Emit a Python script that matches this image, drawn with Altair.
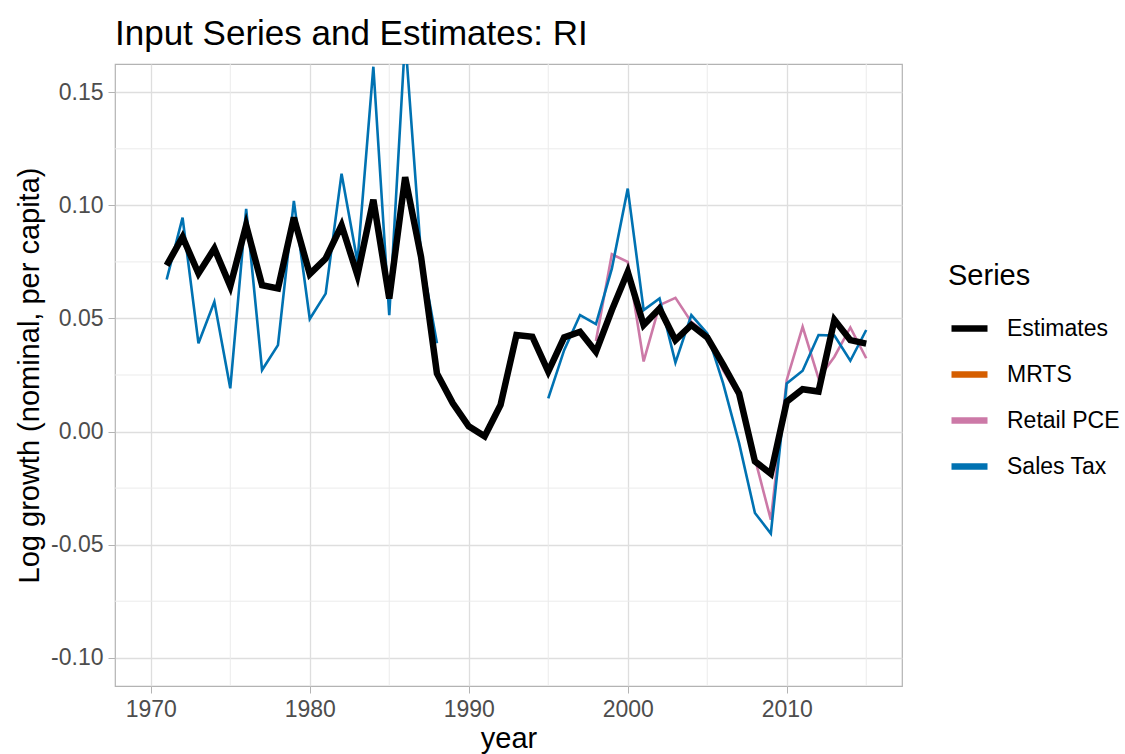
import altair as alt
import pandas as pd

# Annual log growth of nominal per-capita retail spending, Rhode Island
years = list(range(1971, 2016))

estimates = [
    0.0735, 0.0860, 0.0699, 0.0809, 0.0643, 0.0912, 0.0647, 0.0633, 0.0946, 0.0696,
    0.0765, 0.0912, 0.0691, 0.1025, 0.0588, 0.1125, 0.0772, 0.0257, 0.0125, 0.0023,
    -0.0021, 0.0118, 0.0427, 0.0419, 0.0265, 0.0416, 0.0441, 0.0353, 0.0537, 0.0706,
    0.0471, 0.0544, 0.0404, 0.0471, 0.0416, 0.0296, 0.0169, -0.0132, -0.0187, 0.0132,
    0.0187, 0.0177, 0.0494, 0.0404, 0.0389,
]

sales_tax = [
    0.0672, 0.0946, 0.0390, 0.0574, 0.0191, 0.0985, 0.0272, 0.0382, 0.1020, 0.0498,
    0.0610, 0.1140, 0.0750, 0.1613, 0.0515, 0.1740, 0.0780, 0.0390, None, None,
    None, None, None, None, 0.0147, 0.0360, 0.0515, 0.0475, 0.0720, 0.1074,
    0.0537, 0.0588, 0.0305, 0.0515, 0.0434, 0.0213, -0.0050, -0.0360, -0.0451, 0.0213,
    0.0269, 0.0427, 0.0424, 0.0313, 0.0449,
]

retail_pce_years = list(range(1998, 2016))
retail_pce = [
    0.0400, 0.0784, 0.0750, 0.0310, 0.0559, 0.0591, 0.0485, 0.0430, 0.0270, 0.0155,
    -0.0120, -0.0390, 0.0228, 0.0463, 0.0235, 0.0331, 0.0460, 0.0324,
]

mrts_years = []
mrts = []

series_names = ["Estimates", "MRTS", "Retail PCE", "Sales Tax"]
series_colors = ["#000000", "#D55E00", "#CC79A7", "#0072B2"]

x_major = [1970, 1980, 1990, 2000, 2010]
x_minor = [1975, 1985, 1995, 2005, 2015]
y_major = [-0.10, -0.05, 0.00, 0.05, 0.10, 0.15]
y_minor = [-0.075, -0.025, 0.025, 0.075, 0.125]


def to_rows(name, xs, vals):
    """Long-format rows; a new segment starts after every missing value."""
    rows, seg = [], 0
    for x, v in zip(xs, vals):
        if v is None:
            seg += 1
            continue
        rows.append({"year": x, "value": v, "series": name, "seg": f"{name}-{seg}"})
    return rows


inputs = pd.DataFrame(
    to_rows("MRTS", mrts_years, mrts)
    + to_rows("Retail PCE", retail_pce_years, retail_pce)
    + to_rows("Sales Tax", years, sales_tax)
)
est = pd.DataFrame(to_rows("Estimates", years, estimates))

x_scale = alt.Scale(domain=[1967.75, 2017.25], nice=False, zero=False)
y_scale = alt.Scale(domain=[-0.1125, 0.1625], nice=False, zero=False)
color_scale = alt.Scale(domain=series_names, range=series_colors)

grid_minor_x = alt.Chart(pd.DataFrame({"x": x_minor})).mark_rule(
    color="#EBEBEB", strokeWidth=1
).encode(x=alt.X("x:Q", scale=x_scale))

grid_minor_y = alt.Chart(pd.DataFrame({"y": y_minor})).mark_rule(
    color="#EBEBEB", strokeWidth=1
).encode(y=alt.Y("y:Q", scale=y_scale))

x_enc = alt.X(
    "year:Q",
    scale=x_scale,
    title="year",
    axis=alt.Axis(values=x_major, format="d"),
)
y_enc = alt.Y(
    "value:Q",
    scale=y_scale,
    title="Log growth (nominal, per capita)",
    axis=alt.Axis(
        values=y_major,
        labelExpr="replace(format(datum.value, '.2f'), '\u2212', '-')",
    ),
)
color_enc = alt.Color(
    "series:N",
    scale=color_scale,
    title="Series",
    legend=alt.Legend(orient="none", legendX=833, legendY=198),
)

input_lines = alt.Chart(inputs).mark_line(strokeWidth=2.6, clip=True).encode(
    x=x_enc, y=y_enc, color=color_enc, detail="seg:N", order="year:Q"
)

estimate_line = alt.Chart(est).mark_line(strokeWidth=6.5, clip=True).encode(
    x=x_enc, y=y_enc, color=color_enc, order="year:Q"
)

chart = (
    alt.layer(grid_minor_x, grid_minor_y, input_lines, estimate_line)
    .properties(
        width=787,
        height=622,
        title=alt.Title(
            "Input Series and Estimates: RI",
            anchor="start",
            frame="group",
            fontSize=35,
            fontWeight="normal",
            color="#000000",
            offset=12,
        ),
        autosize=alt.AutoSizeParams(type="none"),
        padding={"left": 115, "top": 64, "right": 223, "bottom": 68},
    )
    .configure(font="Liberation Sans", background="#FFFFFF")
    .configure_view(stroke="#B3B3B3", strokeWidth=1.2)
    .configure_axis(
        grid=True,
        gridColor="#DEDEDE",
        gridWidth=1.3,
        domain=False,
        ticks=True,
        tickColor="#B3B3B3",
        tickSize=7,
        tickWidth=1,
        labelColor="#4D4D4D",
        labelFontSize=23,
        labelPadding=5,
        titleColor="#000000",
        titleFontSize=29,
        titleFontWeight="normal",
    )
    .configure_axisX(titlePadding=3)
    .configure_axisY(titlePadding=6)
    .configure_legend(
        titleFontSize=29,
        titleFontWeight="normal",
        titleColor="#000000",
        titlePadding=16,
        labelFontSize=23,
        labelColor="#000000",
        symbolType="stroke",
        symbolStrokeWidth=6.5,
        symbolSize=1296,
        labelOffset=16,
        rowPadding=11,
    )
)

chart.save("out.html", embed_options={"renderer": "svg", "actions": False})
